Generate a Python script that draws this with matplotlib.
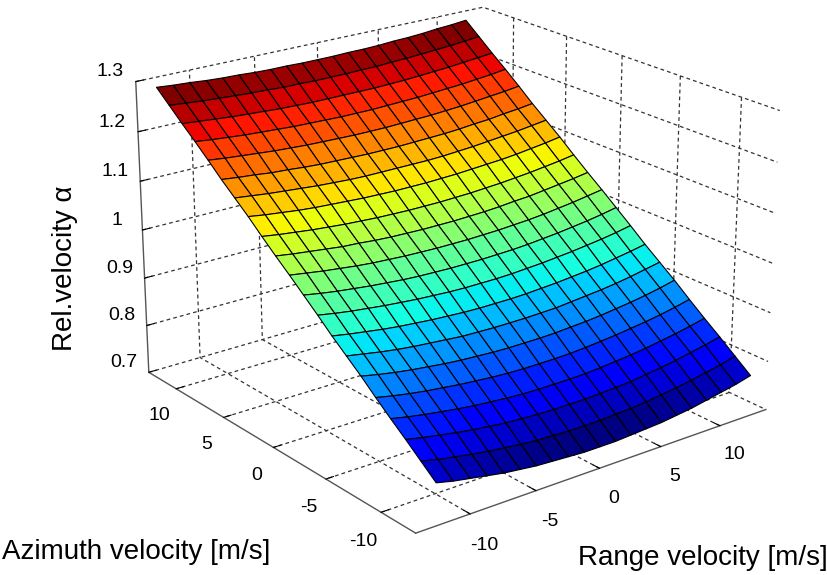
import numpy as np
import matplotlib
matplotlib.use("Agg")
import matplotlib.pyplot as plt

plt.rcParams['font.family'] = ['Liberation Sans', 'DejaVu Sans']
plt.rcParams['axes.unicode_minus'] = False

# Grid of the surface
range_velocity = [-12.5, -11.25, -10, -8.75, -7.5, -6.25, -5, -3.75, -2.5, -1.25, 0,
                  1.25, 2.5, 3.75, 5, 6.25, 7.5, 8.75, 10, 11.25, 12.5]
azimuth_velocity = [-13, -11.7, -10.4, -9.1, -7.8, -6.5, -5.2, -3.9, -2.6, -1.3, 0,
                    1.3, 2.6, 3.9, 5.2, 6.5, 7.8, 9.1, 10.4, 11.7, 13]

# Relative velocity, one row per azimuth velocity
rel_velocity = [
    [.783, .775, .769, .763, .757, .753, .749, .747, .745, .743, .743, .743, .745, .747, .749, .753, .757, .763, .769, .775, .783],
    [.808, .800, .794, .788, .783, .779, .775, .772, .771, .769, .769, .769, .771, .772, .775, .779, .783, .788, .794, .800, .808],
    [.833, .826, .820, .814, .809, .805, .801, .799, .797, .796, .796, .796, .797, .799, .801, .805, .809, .814, .820, .826, .833],
    [.857, .850, .844, .839, .834, .830, .827, .824, .822, .821, .821, .821, .822, .824, .827, .830, .834, .839, .844, .850, .857],
    [.882, .875, .869, .864, .860, .856, .853, .850, .848, .847, .847, .847, .848, .850, .853, .856, .860, .864, .869, .875, .882],
    [.908, .901, .895, .890, .886, .882, .879, .877, .875, .874, .874, .874, .875, .877, .879, .882, .886, .890, .895, .901, .908],
    [.932, .926, .920, .915, .911, .908, .905, .902, .901, .900, .900, .900, .901, .902, .905, .908, .911, .915, .920, .926, .932],
    [.956, .950, .945, .940, .936, .933, .930, .928, .926, .925, .925, .925, .926, .928, .930, .933, .936, .940, .945, .950, .956],
    [.982, .976, .971, .967, .963, .960, .957, .955, .953, .952, .952, .952, .953, .955, .957, .960, .963, .967, .971, .976, .982],
    [1.007, 1.001, .996, .992, .988, .985, .982, .980, .979, .978, .978, .978, .979, .980, .982, .985, .988, .992, .996, 1.001, 1.007],
    [1.032, 1.027, 1.022, 1.018, 1.014, 1.011, 1.009, 1.007, 1.006, 1.005, 1.005, 1.005, 1.006, 1.007, 1.009, 1.011, 1.014, 1.018, 1.022, 1.027, 1.032],
    [1.056, 1.051, 1.047, 1.043, 1.039, 1.037, 1.034, 1.032, 1.031, 1.030, 1.030, 1.030, 1.031, 1.032, 1.034, 1.037, 1.039, 1.043, 1.047, 1.051, 1.056],
    [1.081, 1.076, 1.072, 1.068, 1.065, 1.062, 1.060, 1.058, 1.057, 1.056, 1.056, 1.056, 1.057, 1.058, 1.060, 1.062, 1.065, 1.068, 1.072, 1.076, 1.081],
    [1.107, 1.102, 1.098, 1.094, 1.091, 1.089, 1.087, 1.085, 1.084, 1.083, 1.083, 1.083, 1.084, 1.085, 1.087, 1.089, 1.091, 1.094, 1.098, 1.102, 1.107],
    [1.131, 1.127, 1.123, 1.120, 1.117, 1.114, 1.112, 1.110, 1.109, 1.109, 1.109, 1.109, 1.109, 1.110, 1.112, 1.114, 1.117, 1.120, 1.123, 1.127, 1.131],
    [1.155, 1.151, 1.148, 1.144, 1.142, 1.139, 1.137, 1.136, 1.135, 1.134, 1.134, 1.134, 1.135, 1.136, 1.137, 1.139, 1.142, 1.144, 1.148, 1.151, 1.155],
    [1.181, 1.177, 1.174, 1.171, 1.168, 1.166, 1.164, 1.163, 1.162, 1.161, 1.161, 1.161, 1.162, 1.163, 1.164, 1.166, 1.168, 1.171, 1.174, 1.177, 1.181],
    [1.206, 1.202, 1.199, 1.196, 1.194, 1.192, 1.190, 1.189, 1.188, 1.187, 1.187, 1.187, 1.188, 1.189, 1.190, 1.192, 1.194, 1.196, 1.199, 1.202, 1.206],
    [1.230, 1.227, 1.224, 1.221, 1.219, 1.217, 1.215, 1.214, 1.213, 1.213, 1.213, 1.213, 1.213, 1.214, 1.215, 1.217, 1.219, 1.221, 1.224, 1.227, 1.230],
    [1.255, 1.252, 1.249, 1.247, 1.245, 1.243, 1.242, 1.240, 1.240, 1.239, 1.239, 1.239, 1.240, 1.240, 1.242, 1.243, 1.245, 1.247, 1.249, 1.252, 1.255],
    [1.280, 1.277, 1.275, 1.272, 1.270, 1.269, 1.267, 1.266, 1.266, 1.265, 1.265, 1.265, 1.266, 1.266, 1.267, 1.269, 1.270, 1.272, 1.275, 1.277, 1.280],
]

xy_ticks = [-10, -5, 0, 5, 10]
z_ticks = [0.7, 0.8, 0.9, 1, 1.1, 1.2, 1.3]
z_labels = ['0.7', '0.8', '0.9', '1', '1.1', '1.2', '1.3']

X, Y = np.meshgrid(range_velocity, azimuth_velocity)
Z = np.array(rel_velocity)

fig = plt.figure(figsize=(8.27, 5.75), dpi=100)
ax = fig.add_axes([0.0376, 0.058, 1.0, 1.0], projection='3d', computed_zorder=False)
ax.set_proj_type('persp', focal_length=0.85)
ax.view_init(elev=21, azim=-127.8)
ax.set_box_aspect((0.95, 0.99, 0.68), zoom=1.2)

surf = ax.plot_surface(X, Y, Z, rstride=1, cstride=1, cmap='jet', shade=False,
                       edgecolor='black', linewidth=0.8)
surf.set_clip_on(False)

ax.set_xlim(-14, 14, view_margin=0)
ax.set_ylim(-13, 13, view_margin=0)
ax.set_zlim(0.7, 1.3, view_margin=0)
ax.set_xticks(xy_ticks)
ax.set_yticks(xy_ticks)
ax.set_zticks(z_ticks)
ax.set_zticklabels(z_labels)
ax.tick_params(axis='both', labelsize=14, pad=2, colors='black')
ax.tick_params(axis='z', pad=1)
for label in ax.get_zticklabels():
    label.set_va('bottom')

# Matlab look: white walls, dashed grid, grey axis lines
for axis in (ax.xaxis, ax.yaxis, ax.zaxis):
    axis.pane.set_facecolor('white')
    axis.pane.set_edgecolor('none')
    axis.line.set_color('#555555')
    axis.line.set_linewidth(1.0)
    axis._axinfo['grid'].update(color='#333333', linestyle=(0, (3, 2.5)), linewidth=0.9)
    axis._axinfo['tick'].update(inward_factor=0.0, outward_factor=0.25)

fig.text(2 / 827, 1 - 552 / 575, 'Azimuth velocity [m/s]', fontsize=20, va='center', ha='left')
fig.text(578 / 827, 1 - 558 / 575, 'Range velocity [m/s]', fontsize=20, va='center', ha='left')
fig.text(65 / 827, 1 - 268 / 575, 'Rel.velocity α', fontsize=20, rotation=90,
         va='center', ha='center')

fig.savefig('out.png', dpi=100)
